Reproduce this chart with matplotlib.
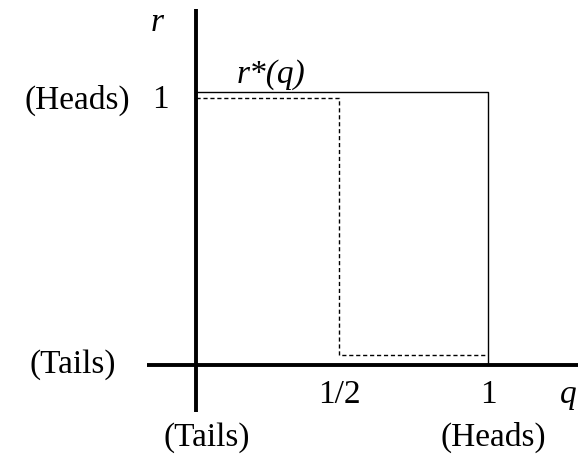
import numpy as np
import matplotlib
matplotlib.use("Agg")
import matplotlib.pyplot as plt

# best response r*(q): solid, and the shifted dashed version
best_q = [0.0, 1.0, 1.0]
best_r = [1.0, 1.0, 0.0]
dash_q = [0.0, 0.49, 0.49, 1.0]
dash_r = [0.978, 0.978, 0.037, 0.037]

# axis extents
x_axis = [-0.168, 1.308]
y_axis = [-0.172, 1.304]

# tick labels (q and r positions)
q_ticks = [0.49, 1.0]
q_tick_labels = ["1/2", "1"]

plt.rcParams['font.family'] = ['Liberation Serif', 'DejaVu Serif']
fs = 24

fig = plt.figure(figsize=(5.83, 4.59), dpi=100)
ax = fig.add_axes([0, 0, 1, 1])
ax.set_xlim(-0.671, 1.325)
ax.set_ylim(-0.344, 1.337)
ax.axis('off')

ax.plot(x_axis, [0, 0], color='black', lw=2.8, solid_capstyle='butt')
ax.plot([0, 0], y_axis, color='black', lw=2.8, solid_capstyle='butt')

ax.plot(best_q, best_r, color='black', lw=1.0)
ax.plot(dash_q, dash_r, color='black', lw=1.0, ls=(0, (3, 2)))

for q, lab in zip(q_ticks, q_tick_labels):
    ax.text(q, -0.11, lab, fontsize=fs, ha='center', va='center')
ax.text(1.274, -0.11, "q", fontsize=fs, style='italic', ha='center', va='center')
ax.text(-0.134, 1.253, "r", fontsize=fs, style='italic', ha='center', va='center')
ax.text(0.257, 1.065, "r*(q)", fontsize=fs, style='italic', ha='center', va='center')

ax.text(-0.123, 0.971, "1", fontsize=fs, ha='center', va='center')
ax.text(-0.408, 0.971, "(Heads)", fontsize=fs, ha='center', va='center')
ax.text(-0.421, 0.0, "(Tails)", fontsize=fs, ha='center', va='center')
ax.text(0.038, -0.264, "(Tails)", fontsize=fs, ha='center', va='center')
ax.text(1.017, -0.264, "(Heads)", fontsize=fs, ha='center', va='center')

fig.savefig("out.png", dpi=100)
